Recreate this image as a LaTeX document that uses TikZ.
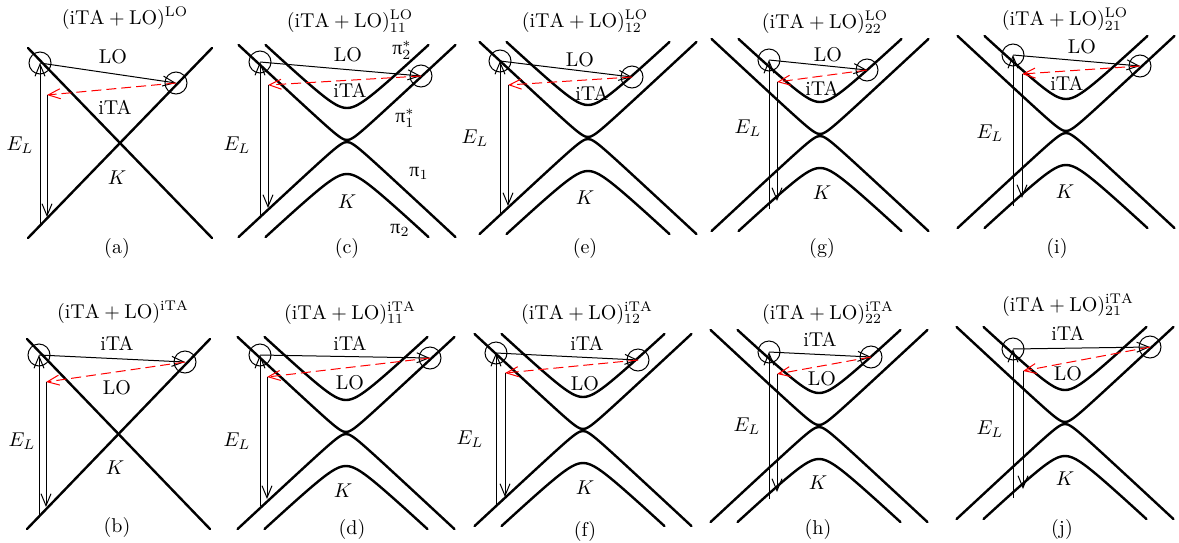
\documentclass[tikz,border=0pt]{standalone}
\usepackage{amsmath}
\usepackage{fontspec}
\newfontfamily\grfont{Liberation Serif}
\usepackage{tikz}
\usetikzlibrary{arrows.meta}

\begin{document}
\begin{tikzpicture}[x=0.5pt,y=-0.5pt,
    every node/.style={inner sep=1pt},
    band/.style={line width=1.2pt,line cap=round},
    elec/.style={circle,draw,line width=0.5pt,minimum size=11pt,inner sep=0pt},
    jump/.style={line width=0.5pt,-{Straight Barb[length=6pt,width=5pt]}},
    back/.style={red,line width=0.5pt,dash pattern=on 5pt off 2.5pt,-{Straight Barb[length=6pt,width=5pt]}}]
    \useasboundingbox (0,0) rectangle (1179,542);

    % linear bands, (a) and (b)
    \draw[band] (28,48) -- (212,238);
    \draw[band] (212,48) -- (28,238);
    \draw[band] (27,339) -- (210,529);
    \draw[band] (210,339) -- (27,529);

    % pi bands with a gap, (c)-(j)
    \foreach \cx/\cy in {347/141,588/138,820/135,1066/132,346/433,583/430,819/426,1065/423} {
        \begin{scope}[shift={(\cx,\cy)}]
            \draw[band] plot[domain=-108.4:108.4,samples=81,smooth] (\x,{-(sqrt(36+(0.93*\x)^2)-5)});
            \draw[band] plot[domain=-108.4:108.4,samples=81,smooth] (\x,{sqrt(36+(0.93*\x)^2)-5});
            \draw[band] plot[domain=-81.4:81.4,samples=61,smooth] (\x,{-(sqrt(196+(0.93*\x)^2)+19)});
            \draw[band] plot[domain=-81.4:81.4,samples=61,smooth] (\x,{sqrt(196+(0.93*\x)^2)+19});
        \end{scope}
    }

    % electron path: up, scatter, scatter back, down
    \foreach \p/\lx/\ly/\rx/\ry/\mx/\my/\dy/\uy in {
        a/40/63/176/83/47/95/217/224,
        b/39/355/185/362/46/382/507/515,
        c/260/62/421/76/268/85/208/216,
        d/260/355/430/358/267/377/499/506,
        e/500/61/632/77/508/85/206/215,
        f/496/353/638/360/505/373/497/505,
        g/769/60/867/70/777/82/201/209,
        h/769/352/871/357/777/374/492/499,
        i/1013/55/1140/66/1022/74/198/206,
        j/1013/349/1150/347/1023/371/489/498} {
        \node[elec] (l\p) at (\lx,\ly) {};
        \node[elec] (r\p) at (\rx,\ry) {};
        \coordinate (m\p) at (\mx,\my);
        \coordinate (d\p) at (\mx,\dy);
        \coordinate (u\p) at (\lx,\uy);
        \draw[jump] (u\p) -- (l\p.center);
        \draw[jump] (l\p.center) -- (r\p.center);
        \draw[back] (r\p.center) -- (m\p);
        \draw[jump] (m\p) -- (d\p);
    }

    % K, E_L and captions
    \foreach \p/\kx/\ky/\ex/\ey/\cx/\cy in {
        a/117/178/20/145/117/248, b/115/468/22/441/117/527,
        c/347/202/237/145/347/248, d/343/491/237/441/352/529,
        e/585/198/475/138/585/248, f/585/488/470/439/585/531,
        g/822/193/748/128/822/248, h/818/483/747/426/818/529,
        i/1065/192/990/133/1057/248, j/1065/479/990/429/1062/529} {
        \node (k\p) at (\kx,\ky) {$K$};
        \node (e\p) at (\ex,\ey) {$E_L$};
        \node (cap\p) at (\cx,\cy) {(\p)};
    }

    % titles
    \node[anchor=base] (ta) at (125,24) {$(\mathrm{iTA}+\mathrm{LO})^{\mathrm{LO}}$};
    \node[anchor=base] (tb) at (123,318) {$(\mathrm{iTA}+\mathrm{LO})^{\mathrm{iTA}}$};
    \node[anchor=base] (tc) at (350,27) {$(\mathrm{iTA}+\mathrm{LO})^{\mathrm{LO}}_{11}$};
    \node[anchor=base] (td) at (350,319) {$(\mathrm{iTA}+\mathrm{LO})^{\mathrm{iTA}}_{11}$};
    \node[anchor=base] (te) at (585,27) {$(\mathrm{iTA}+\mathrm{LO})^{\mathrm{LO}}_{12}$};
    \node[anchor=base] (tf) at (587,319) {$(\mathrm{iTA}+\mathrm{LO})^{\mathrm{iTA}}_{12}$};
    \node[anchor=base] (tg) at (825,28) {$(\mathrm{iTA}+\mathrm{LO})^{\mathrm{LO}}_{22}$};
    \node[anchor=base] (th) at (828,319) {$(\mathrm{iTA}+\mathrm{LO})^{\mathrm{iTA}}_{22}$};
    \node[anchor=base] (ti) at (1065,25) {$(\mathrm{iTA}+\mathrm{LO})^{\mathrm{LO}}_{21}$};
    \node[anchor=base] (tj) at (1068,311) {$(\mathrm{iTA}+\mathrm{LO})^{\mathrm{iTA}}_{21}$};

    % phonon labels
    \node (pa1) at (113,57) {LO};    \node (pa2) at (115,107) {iTA};
    \node (pb1) at (117,343) {iTA};  \node (pb2) at (117,388) {LO};
    \node (pc1) at (348,55) {LO};    \node (pc2) at (350,90) {iTA};
    \node (pd1) at (350,343) {iTA};  \node (pd2) at (350,383) {LO};
    \node (pe1) at (580,60) {LO};    \node (pe2) at (592,93) {iTA};
    \node (pf1) at (587,343) {iTA};  \node (pf2) at (585,384) {LO};
    \node (pg1) at (828,55) {LO};    \node (pg2) at (822,88) {iTA};
    \node (ph1) at (820,339) {iTA};  \node (ph2) at (822,379) {LO};
    \node (pi1) at (1082,47) {LO};   \node (pi2) at (1067,83) {iTA};
    \node (pj1) at (1068,333) {iTA}; \node (pj2) at (1068,374) {LO};

    % band names in (c)
    \node (pis2) at (402,50) {{\grfont π}$^*_2$};
    \node (pis1) at (405,118) {{\grfont π}$^*_1$};
    \node (pi1n) at (419,173) {{\grfont π}$_1$};
    \node (pi2n) at (400,230) {{\grfont π}$_2$};
\end{tikzpicture}
\end{document}
